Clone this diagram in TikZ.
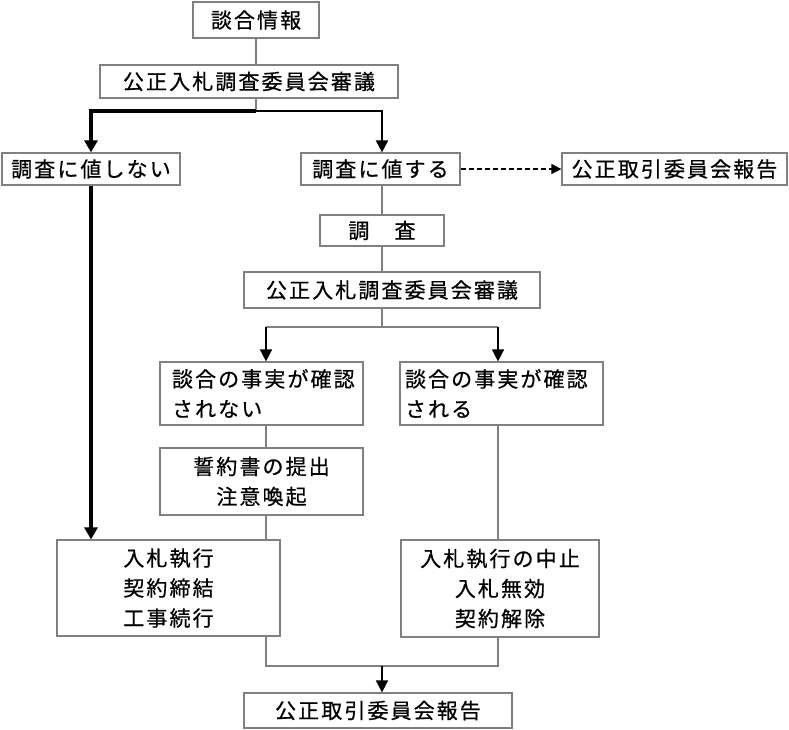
\documentclass[tikz,border=0pt]{standalone}
\usepackage{fontspec}
\usetikzlibrary{arrows.meta}
\newfontfamily\jpfont[LetterSpace=10,FakeBold=0.6]{Noto Sans CJK JP}
\definecolor{linegray}{RGB}{128,128,128}
\begin{document}
\begin{tikzpicture}[x=1pt,y=-1pt,
		box/.style={draw=linegray,line width=1.2pt,inner sep=0pt,font=\jpfont\fontsize{21}{30}\selectfont},
		link/.style={draw=linegray,line width=1.2pt},
		arr/.style={draw=black,line width=1.5pt,-{Triangle[width=12pt,length=12pt]}},
		boldarr/.style={draw=black,line width=4pt,-{Triangle[width=13pt,length=12pt]}},
		dasharr/.style={draw=black,line width=1.2pt,dash pattern=on 5pt off 3pt,-{Triangle[width=10pt,length=10pt]}}]
		\useasboundingbox (0,0) rectangle (789,729);
		\node[box,minimum width=126pt,minimum height=36pt] (info) at (256,20) {談合情報};
		\node[box,minimum width=298pt,minimum height=33pt] (review) at (249,81.5) {公正入札調査委員会審議};
		\node[box,minimum width=178pt,minimum height=32pt] (notworth) at (91,169) {調査に値しない};
		\node[box,minimum width=159pt,minimum height=32pt] (worth) at (380.5,169) {調査に値する};
		\node[box,minimum width=225pt,minimum height=32pt] (ftcreport) at (674.5,169) {公正取引委員会報告};
		\node[box,minimum width=124pt,minimum height=31pt] (survey) at (382,230.5) {調　査};
		\node[box,minimum width=296pt,minimum height=36pt] (rereview) at (392,290) {公正入札調査委員会審議};
		\node[box,minimum height=63pt,inner xsep=12pt,text width=179pt,align=left] (nofact) at (261.5,393.5) {談合の事実が確認\\されない};
		\node[box,minimum height=63pt,inner xsep=5pt,text width=193pt,align=left] (fact) at (501.5,393.5) {談合の事実が確認\\される};
		\node[box,minimum width=203pt,minimum height=67pt,align=center] (pledge) at (261.5,481.5) {誓約書の提出\\注意喚起};
		\node[box,minimum width=223pt,minimum height=96pt,align=center] (proceed) at (168.5,588) {入札執行\\契約締結\\工事続行};
		\node[box,minimum width=198pt,minimum height=97pt,align=center] (cancel) at (500,588.5) {入札執行の中止\\入札無効\\契約解除};
		\node[box,minimum width=268pt,minimum height=35pt] (finalreport) at (378,710.5) {公正取引委員会報告};
		\coordinate (fork) at (256,111);
		\coordinate (forkl) at (266,327);
		\coordinate (forkr) at (498,327);
		\coordinate (merge) at (382,666);
		\draw[link] (info.south) -- (info.south |- review.north);
		\draw[link] (info.south |- review.south) -- (fork);
		\draw[boldarr] (fork) -| (notworth.north);
		\draw[arr,line width=2pt] (fork) -| (survey.north |- worth.north);
		\draw[boldarr] (notworth.south) -- (notworth.south |- proceed.north);
		\draw[dasharr] (worth) -- (ftcreport);
		\draw[link] (survey.north |- worth.south) -- (survey.north);
		\draw[link] (survey.south) -- (survey.south |- rereview.north);
		\draw[link] (survey.south |- rereview.south) -- (survey.south |- forkl);
		\draw[link] (forkl) -- (forkr);
		\draw[arr] (forkl) -- (forkl |- nofact.north);
		\draw[arr] (forkr) -- (forkr |- fact.north);
		\draw[link] (forkl |- nofact.south) -- (forkl |- pledge.north);
		\draw[link] (forkl |- pledge.south) -- (forkl |- proceed.north);
		\draw[link] (forkr |- fact.south) -- (forkr |- cancel.north);
		\draw[link] (forkl |- proceed.south) |- (forkr |- merge) -- (forkr |- cancel.south);
		\draw[arr] (merge) -- (merge |- finalreport.north);
	\end{tikzpicture}
\end{document}
